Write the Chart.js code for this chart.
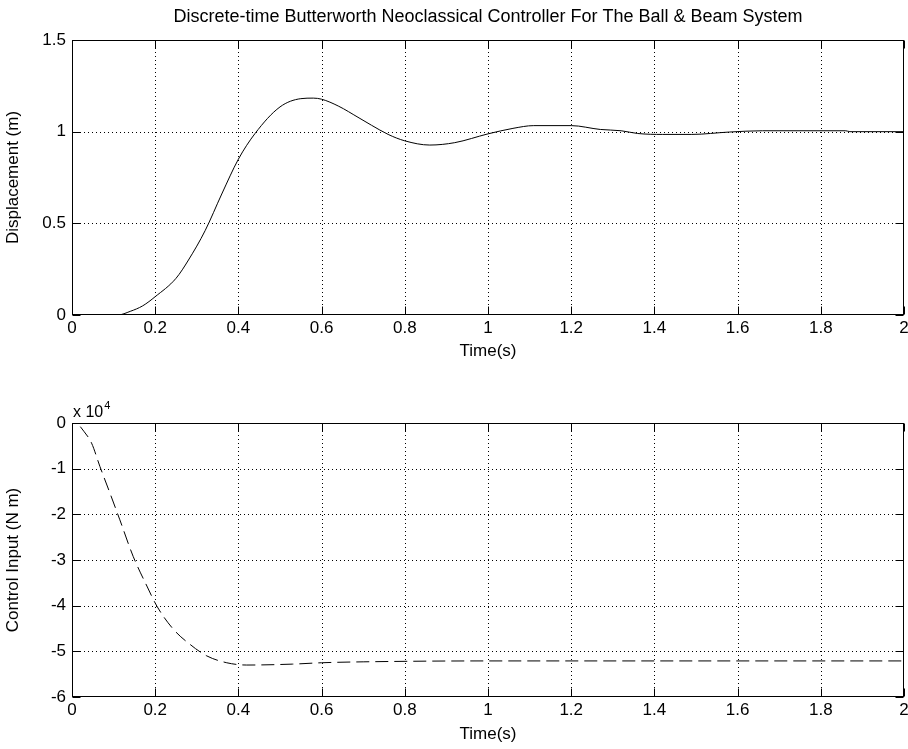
<!DOCTYPE html>
<html><head><meta charset="utf-8">
<script src="https://cdn.jsdelivr.net/npm/chart.js@4/dist/chart.umd.min.js"></script>
<style>
html,body{margin:0;padding:0;background:#fff;}
#wrap{position:relative;width:908px;height:749px;background:#fff;}
#c1{position:absolute;left:0;top:0;}
#c2{position:absolute;left:0;top:370px;}
</style></head><body>
<div id="wrap">
<canvas id="c1" width="908" height="370"></canvas>
<canvas id="c2" width="908" height="379"></canvas>
</div>
<script>
// ---- data ----
const chartTitle = 'Discrete-time Butterworth Neoclassical Controller For The Ball & Beam System';
const timeTicks = [0, 0.2, 0.4, 0.6, 0.8, 1, 1.2, 1.4, 1.6, 1.8, 2];
const timeLabels = ['0', '0.2', '0.4', '0.6', '0.8', '1', '1.2', '1.4', '1.6', '1.8', '2'];
const dispTicks = [0, 0.5, 1, 1.5];
const dispLabels = ['0', '0.5', '1', '1.5'];
const ctrlTicks = [0, -10000, -20000, -30000, -40000, -50000, -60000];
const ctrlLabels = ['0', '-1', '-2', '-3', '-4', '-5', '-6'];

const dispTime = [0.04, 0.11, 0.14, 0.17, 0.20, 0.25, 0.28, 0.32, 0.36, 0.40, 0.44, 0.50, 0.55, 0.58, 0.60, 0.64, 0.69, 0.72, 0.76, 0.80, 0.86, 0.92, 1.00, 1.06, 1.11, 1.20, 1.27, 1.32, 1.36, 1.42, 1.49, 1.58, 1.66, 1.86, 1.87, 2.00];
const dispValues = [0.0, 0.0, 0.02, 0.05, 0.10, 0.20, 0.30, 0.46, 0.66, 0.85, 0.99, 1.135, 1.18, 1.183, 1.177, 1.14, 1.075, 1.035, 0.985, 0.950, 0.927, 0.94, 0.988, 1.018, 1.033, 1.033, 1.012, 1.005, 0.99, 0.985, 0.985, 0.998, 1.005, 1.005, 1.0, 1.0];

const ctrlTime = [0.02, 0.047, 0.067, 0.091, 0.115, 0.147, 0.18, 0.204, 0.244, 0.284, 0.324, 0.372, 0.42, 0.53, 0.60, 0.70, 1.00, 2.00];
const ctrlValues = [-800, -4400, -9500, -15300, -21200, -29200, -35700, -40100, -45200, -48500, -51000, -52500, -53000, -52800, -52500, -52300, -52100, -52100];

// ---- helpers ----
const FONT = "'Liberation Sans', Arial, Helvetica, sans-serif";
Chart.defaults.font.family = FONT;
Chart.defaults.color = '#000';

const matlabAxes = {
  id: 'matlabAxes',
  beforeDatasetsDraw(chart) {
    const {ctx, chartArea: a, scales: {x, y}} = chart;
    ctx.save();
    ctx.strokeStyle = '#000';
    ctx.lineWidth = 1;
    ctx.setLineDash([1, 3]);
    x.ticks.forEach(t => {
      const px = Math.round(x.getPixelForValue(t.value)) + 0.5;
      if (px <= a.left + 2 || px >= a.right - 2) return;
      ctx.beginPath(); ctx.moveTo(px, a.top); ctx.lineTo(px, a.bottom); ctx.stroke();
    });
    y.ticks.forEach(t => {
      const py = Math.round(y.getPixelForValue(t.value)) + 0.5;
      if (py <= a.top + 2 || py >= a.bottom - 2) return;
      ctx.beginPath(); ctx.moveTo(a.left, py); ctx.lineTo(a.right, py); ctx.stroke();
    });
    ctx.restore();
  },
  afterDatasetsDraw(chart, args, opts) {
    const {ctx, chartArea: a, scales: {x, y}} = chart;
    const L = Math.round(a.left) + 0.5, R = Math.round(a.right) - 0.5;
    const T = Math.round(a.top) + 0.5, B = Math.round(a.bottom) - 0.5;
    const tl = 8;
    ctx.save();
    ctx.strokeStyle = '#000';
    ctx.lineWidth = 1;
    ctx.setLineDash([]);
    ctx.strokeRect(L, T, R - L, B - T);
    ctx.beginPath();
    x.ticks.forEach(t => {
      const px = Math.round(x.getPixelForValue(t.value)) + 0.5;
      ctx.moveTo(px, B); ctx.lineTo(px, B - tl);
      ctx.moveTo(px, T); ctx.lineTo(px, T + tl);
    });
    y.ticks.forEach(t => {
      const py = Math.round(y.getPixelForValue(t.value)) + 0.5;
      ctx.moveTo(L, py); ctx.lineTo(L + tl, py);
      ctx.moveTo(R, py); ctx.lineTo(R - tl, py);
    });
    ctx.stroke();
    ctx.fillStyle = '#000';
    if (opts.title) {
      ctx.font = '18px ' + FONT;
      ctx.textAlign = 'center';
      ctx.textBaseline = 'middle';
      ctx.fillText(opts.title, (a.left + a.right) / 2, 17);
    }
    if (opts.exponent) {
      ctx.font = '16px ' + FONT;
      ctx.textAlign = 'left';
      ctx.textBaseline = 'alphabetic';
      ctx.fillText('x 10', a.left + 1, a.top - 6);
      const w = ctx.measureText('x 10').width;
      ctx.font = '11px ' + FONT;
      ctx.fillText(opts.exponent, a.left + 1 + w + 1, a.top - 14);
    }
    ctx.restore();
  }
};

function makeChart(id, times, values, yTicks, yLabels, yMin, yMax, yTitle, dash, padTop, xHeight, xTitlePad, pluginOpts) {
  const pts = times.map((t, i) => ({x: t, y: values[i]}));
  return new Chart(document.getElementById(id), {
    type: 'line',
    data: {datasets: [{
      data: pts,
      borderColor: '#000',
      borderWidth: 1,
      borderDash: dash,
      pointRadius: 0,
      cubicInterpolationMode: 'monotone',
      fill: false
    }]},
    options: {
      responsive: false,
      animation: false,
      devicePixelRatio: 1,
      layout: {padding: {top: padTop, right: 4, left: 0, bottom: 0}},
      plugins: {legend: {display: false}, tooltip: {enabled: false}, matlabAxes: pluginOpts},
      scales: {
        x: {
          type: 'linear', min: 0, max: 2,
          afterBuildTicks: s => { s.ticks = timeTicks.map(v => ({value: v})); },
          afterFit: s => { s.height = xHeight; s.paddingLeft = 0; s.paddingRight = 0; },
          ticks: {
            autoSkip: false, maxRotation: 0, padding: 3,
            font: {size: 17, family: FONT}, color: '#000',
            callback: (v, i) => timeLabels[i]
          },
          grid: {display: false, drawTicks: false},
          border: {display: false},
          title: {display: true, text: 'Time(s)', font: {size: 17, family: FONT}, color: '#000', padding: {top: 0, bottom: xTitlePad}}
        },
        y: {
          type: 'linear', min: yMin, max: yMax,
          afterBuildTicks: s => { s.ticks = yTicks.map(v => ({value: v})); },
          afterFit: s => { s.width = 72; },
          ticks: {
            autoSkip: false, padding: 6,
            font: {size: 17, family: FONT}, color: '#000',
            callback: (v, i) => yLabels[i]
          },
          grid: {display: false, drawTicks: false},
          border: {display: false},
          title: {display: true, text: yTitle, font: {size: 17, family: FONT}, color: '#000', padding: {top: 3, bottom: 0}}
        }
      }
    },
    plugins: [matlabAxes]
  });
}

makeChart('c1', dispTime, dispValues, dispTicks, dispLabels, 0, 1.5, 'Displacement (m)', [], 40, 55, 8, {title: chartTitle});
makeChart('c2', ctrlTime, ctrlValues, ctrlTicks, ctrlLabels, -60000, 0, 'Control Input (N m)', [13, 6], 53, 52, 4, {exponent: '4'});
</script>
</body></html>
